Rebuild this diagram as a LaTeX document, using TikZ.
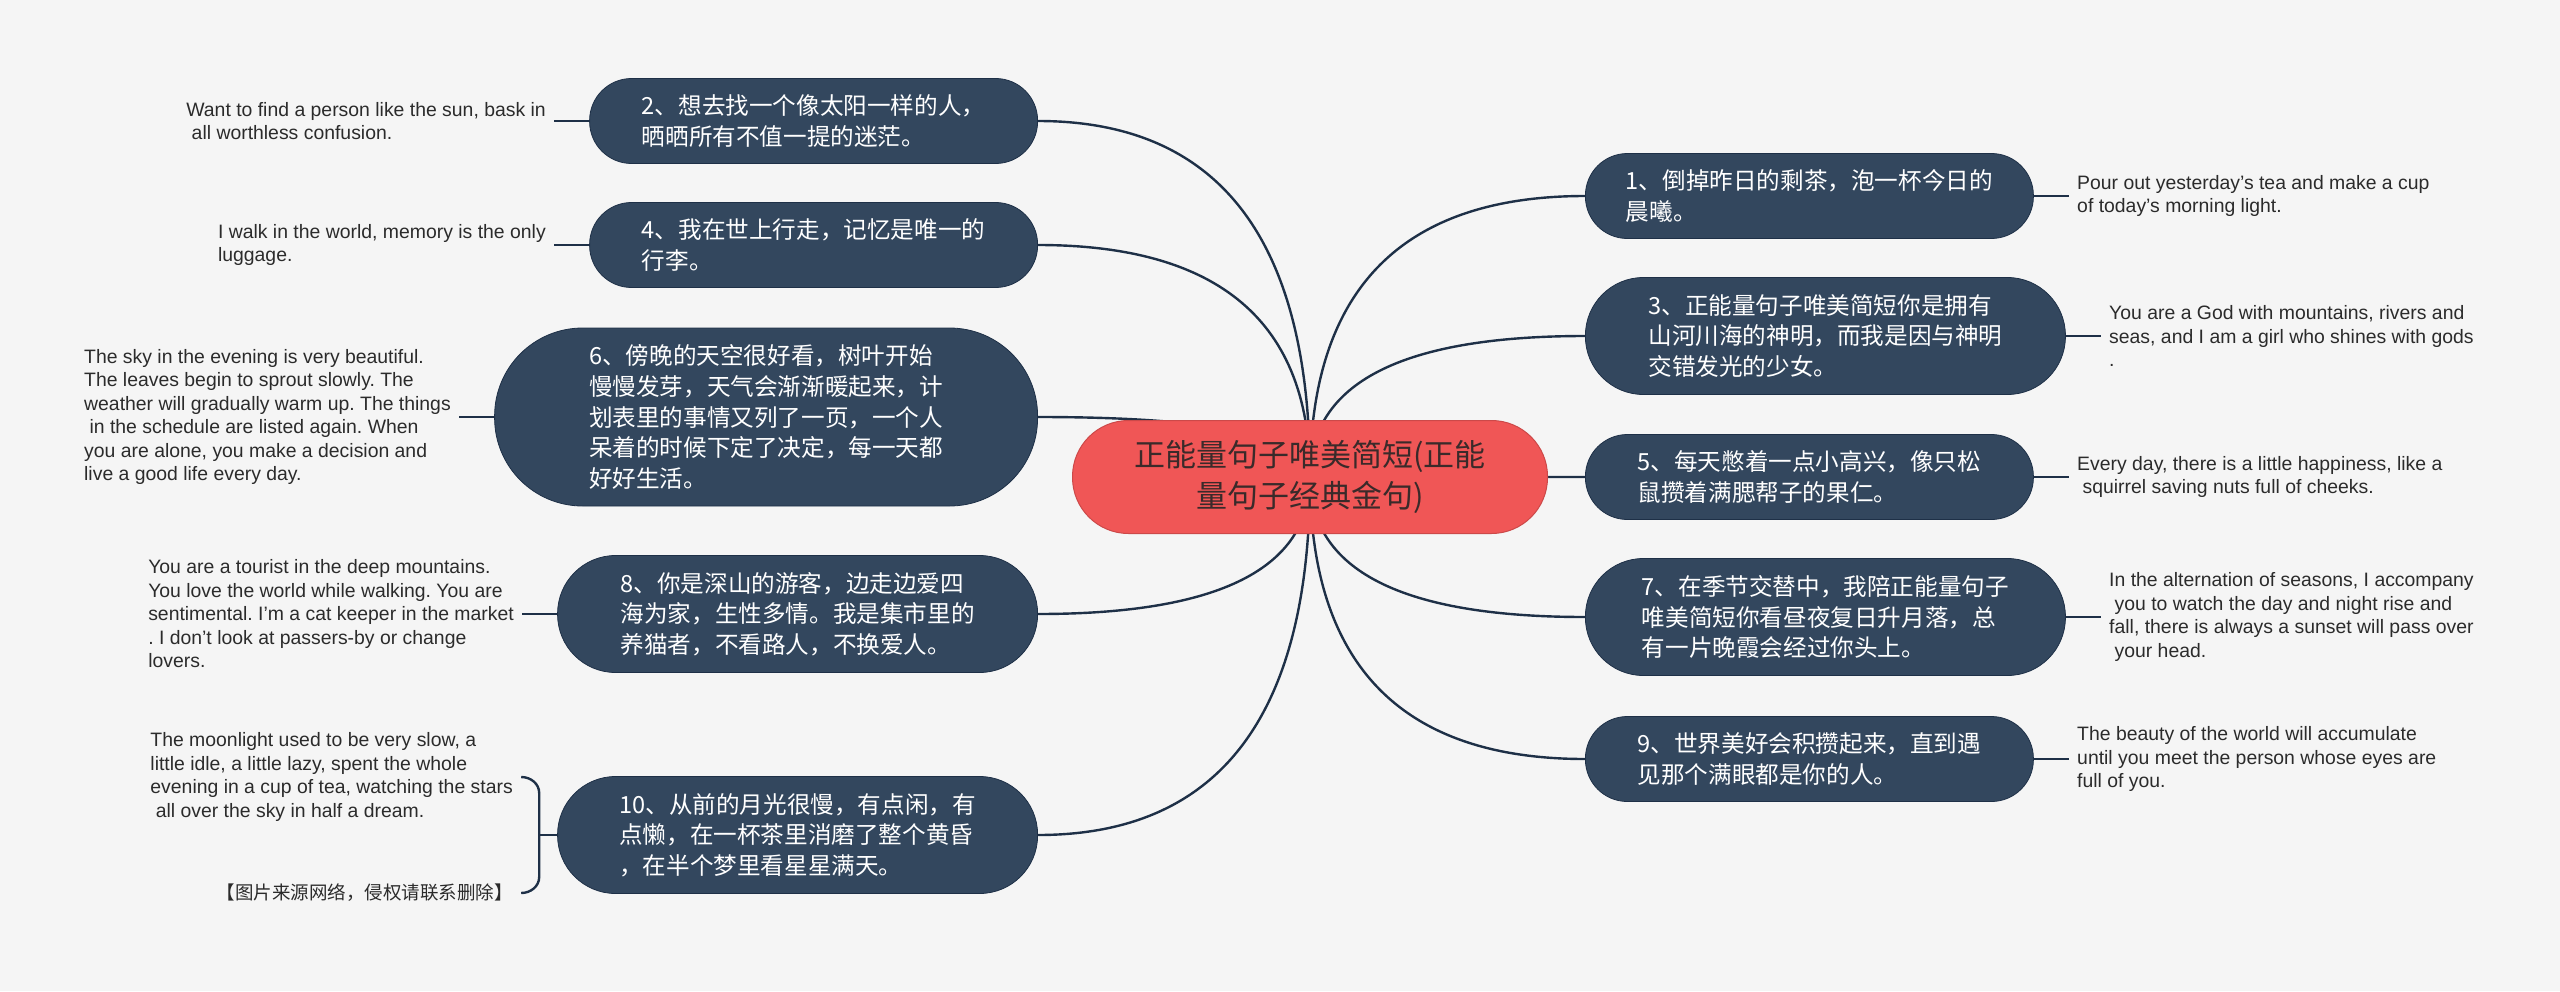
\documentclass[tikz,border=0pt]{standalone}
\usepackage{fontspec}
\setmainfont{Liberation Sans}
\newfontfamily\cjk{Noto Sans CJK SC}
\usetikzlibrary{positioning, calc, backgrounds}
\definecolor{pagebg}{HTML}{F5F5F5}
\definecolor{rootred}{HTML}{F05656}
\definecolor{roottxt}{HTML}{3A2A2A}
\definecolor{topicblue}{HTML}{33475E}
\definecolor{linkblue}{HTML}{1E3047}
\definecolor{notetxt}{HTML}{2B2B2B}
\frenchspacing

\begin{document}
\begin{tikzpicture}[x=0.5pt, y=-0.5pt, node distance=17.5pt,
  root/.style={fill=rootred, draw=rootred!85!black, line width=0.5pt, rounded corners=28pt,
               minimum width=237.5pt, minimum height=56.5pt, text=roottxt, align=center,
               font=\cjk\fontsize{15.5}{20.5}\selectfont},
  topic/.style={fill=topicblue, draw=linkblue, line width=0.4pt, text=white, align=left,
                minimum width=224pt, minimum height=42.5pt, rounded corners=21pt,
                font=\cjk\fontsize{11.8}{15.3}\selectfont},
  topicbig/.style={topic, minimum width=240pt, minimum height=58.5pt, rounded corners=29pt},
  note/.style={text=notetxt, align=left, inner sep=4pt, font=\fontsize{9.7}{11.75}\selectfont},
  link/.style={draw=linkblue, line width=1.2pt}
]
  \useasboundingbox (0,0) rectangle (2560,991);

  % Central topic
  \node[root] (root) at (1310,477) {正能量句子唯美简短(正能\\量句子经典金句)};

  % Right branches
  \node[topic, anchor=west] (b1) at (1585,196) {1、倒掉昨日的剩茶，泡一杯今日的\\晨曦。};
  \node[topicbig, anchor=west] (b3) at (1585,336) {3、正能量句子唯美简短你是拥有\\山河川海的神明，而我是因与神明\\交错发光的少女。};
  \node[topic, anchor=west] (b5) at (1585,477) {5、每天憋着一点小高兴，像只松\\鼠攒着满腮帮子的果仁。};
  \node[topicbig, anchor=west] (b7) at (1585,617) {7、在季节交替中，我陪正能量句子\\唯美简短你看昼夜复日升月落，总\\有一片晚霞会经过你头上。};
  \node[topic, anchor=west] (b9) at (1585,759) {9、世界美好会积攒起来，直到遇\\见那个满眼都是你的人。};

  % Left branches
  \node[topic, anchor=east] (b2) at (1038,121) {2、想去找一个像太阳一样的人，\\晒晒所有不值一提的迷茫。};
  \node[topic, anchor=east] (b4) at (1038,245) {4、我在世上行走，记忆是唯一的\\行李。};
  \node[topic, anchor=east, minimum width=271.5pt, minimum height=89pt, rounded corners=44pt]
    (b6) at (1038,417) {6、傍晚的天空很好看，树叶开始\\慢慢发芽，天气会渐渐暖起来，计\\划表里的事情又列了一页，一个人\\呆着的时候下定了决定，每一天都\\好好生活。};
  \node[topicbig, anchor=east] (b8) at (1038,614) {8、你是深山的游客，边走边爱四\\海为家，生性多情。我是集市里的\\养猫者，不看路人，不换爱人。};
  \node[topicbig, anchor=east] (b10) at (1038,835) {10、从前的月光很慢，有点闲，有\\点懒，在一杯茶里消磨了整个黄昏\\，在半个梦里看星星满天。};

  % Notes on the right
  \node[note, right=of b1] (n1) {Pour out yesterday's tea and make a cup\\of today's morning light.};
  \node[note, right=of b3] (n3) {You are a God with mountains, rivers and\\seas, and I am a girl who shines with gods\\.};
  \node[note, right=of b5] (n5) {Every day, there is a little happiness, like a\\~squirrel saving nuts full of cheeks.};
  \node[note, right=of b7] (n7) {In the alternation of seasons, I accompany\\~you to watch the day and night rise and\\fall, there is always a sunset will pass over\\~your head.};
  \node[note, right=of b9] (n9) {The beauty of the world will accumulate\\until you meet the person whose eyes are\\full of you.};

  % Notes on the left
  \node[note, left=of b2] (n2) {Want to find a person like the sun, bask in\\~all worthless confusion.};
  \node[note, left=of b4] (n4) {I walk in the world, memory is the only\\luggage.};
  \node[note, left=of b6] (n6) {The sky in the evening is very beautiful.\\The leaves begin to sprout slowly. The\\weather will gradually warm up. The things\\~in the schedule are listed again. When\\you are alone, you make a decision and\\live a good life every day.};
  \node[note, left=of b8] (n8) {You are a tourist in the deep mountains.\\You love the world while walking. You are\\sentimental. I'm a cat keeper in the market\\. I don't look at passers-by or change\\lovers.};

  % Two notes of topic 10, joined by a bracket
  \coordinate (brk) at ($(b10.west)+(-18,0)$);
  \node[note, anchor=east] (moon) at ($(brk)+(-18,-58)$) {The moonlight used to be very slow, a\\little idle, a little lazy, spent the whole\\evening in a cup of tea, watching the stars\\~all over the sky in half a dream.};
  \node[note, anchor=east, font=\cjk\fontsize{9.25}{11.75}\selectfont] (src) at ($(brk)+(-18,58)$) {【图片来源网络，侵权请联系删除】};

  \draw[link] (b1) -- (n1);
  \draw[link] (b3) -- (n3);
  \draw[link] (b5) -- (n5);
  \draw[link] (b7) -- (n7);
  \draw[link] (b9) -- (n9);
  \draw[link] (b2) -- (n2);
  \draw[link] (b4) -- (n4);
  \draw[link] (b6) -- (n6);
  \draw[link] (b8) -- (n8);
  \draw[link] (b10.west) -- (brk);
  \draw[link] (moon.east) to[out=0, in=90] ($(brk |- moon.east)+(0,16)$)
    -- ($(brk |- src.east)+(0,-16)$) to[out=-90, in=0] (src.east);

  % Curved links from the centre, behind the nodes
  \begin{scope}[on background layer]
    \fill[pagebg] (0,0) rectangle (2560,991);
    \foreach \t/\s in {b1/west, b3/west, b5/west, b7/west, b9/west,
                       b2/east, b4/east, b6/east, b8/east, b10/east} {
      \coordinate (q) at (root.center |- \t.\s);
      \draw[link] (root.center) .. controls ($(root.center)!0.667!(q)$)
        and ($(\t.\s)!0.667!(q)$) .. (\t.\s);
    }
  \end{scope}
\end{tikzpicture}
\end{document}
